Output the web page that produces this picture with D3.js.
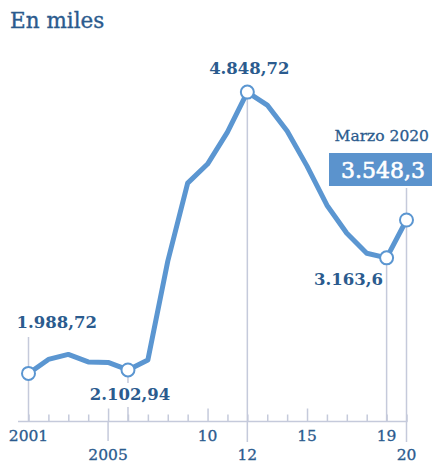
<!DOCTYPE html>
<html><head><meta charset="utf-8">
<script src="https://cdn.jsdelivr.net/npm/d3@7"></script>
<style>
html,body{margin:0;padding:0;background:#fff;}
svg{display:block;}
</style></head>
<body>
<svg id="chart" width="432" height="464"></svg>
<script>
// ---- data ----
const years = [2001,2002,2003,2004,2005,2006,2007,2008,2009,2010,2011,2012,2013,2014,2015,2016,2017,2018,2019,2020];
const values = [1988.72,2131,2182,2106,2101,2024,2126,3129,3923,4117,4442,4848.72,4717,4452,4096,3699,3414,3210,3163.6,3548.3];
const markedYears = [2001,2006,2012,2019,2020];
const markLabels = ["1.988,72","2.102,94","4.848,72","3.163,6","3.548,3"];
const tickYears = d3.range(2001,2021);
const longTicks = [2005,2010,2015];
const tickLabelsTop = [[2001,"2001"],[2010,"10"],[2015,"15"],[2019,"19"]];
const tickLabelsBottom = [[2005,"2005"],[2012,"12"],[2020,"20"]];
const title = "En miles";
const boxCaption = "Marzo 2020";

// ---- styles ----
const textColor = "#2b5b8e", lineColor = "#5b96d1", gridColor = "#c5cadb";
const serif = "'DejaVu Serif', serif";

const svg = d3.select("#chart");
const x = d3.scaleLinear().domain([2001,2020]).range([28.5,406.5]);
const y = d3.scaleLinear().domain([1500,5000]).range([421.5,77.2]);
const axisY = 421.5;
const data = years.map((yr,i)=>({yr, v: values[i]}));
const valOf = yr => values[years.indexOf(yr)];

// title
svg.append("text").attr("x",10).attr("y",28).attr("fill",textColor)
  .attr("stroke",textColor).attr("stroke-width",0.35)
  .style("font-family",serif).style("font-size","21.5px").text(title);

// guide lines
const g = svg.append("g").attr("stroke",gridColor).attr("stroke-width",1.5);
g.append("line").attr("x1",x(2001)).attr("x2",x(2001)).attr("y1",337).attr("y2",axisY);
g.append("line").attr("x1",x(2006)).attr("x2",x(2006)).attr("y1",y(valOf(2006))).attr("y2",383);
g.append("line").attr("x1",x(2006)).attr("x2",x(2006)).attr("y1",407).attr("y2",axisY);
g.append("line").attr("x1",x(2012)).attr("x2",x(2012)).attr("y1",y(valOf(2012))).attr("y2",442);
g.append("line").attr("x1",x(2019)).attr("x2",x(2019)).attr("y1",y(valOf(2019))).attr("y2",axisY);
g.append("line").attr("x1",x(2020)).attr("x2",x(2020)).attr("y1",188).attr("y2",442);
g.append("line").attr("x1",x(2005)).attr("x2",x(2005)).attr("y1",axisY).attr("y2",441);

// axis
const axis = d3.axisTop(x).tickValues(tickYears).tickSize(7).tickFormat("");
const ax = svg.append("g").attr("transform",`translate(0,${axisY})`).call(axis);
ax.select(".domain").remove();
ax.selectAll(".tick line").attr("stroke",gridColor).attr("stroke-width",1.5)
  .attr("y2", d => longTicks.includes(d) ? -13 : -7);
svg.append("line").attr("x1",18).attr("x2",x(2020)+1).attr("y1",axisY).attr("y2",axisY)
  .attr("stroke",gridColor).attr("stroke-width",1.5);

// tick labels
const tl = svg.append("g").attr("fill",textColor).attr("stroke",textColor).attr("stroke-width",0.3)
  .style("font-family",serif).style("font-size","15.5px").attr("text-anchor","middle");
tickLabelsTop.forEach(([yr,t])=> tl.append("text").attr("x",x(yr)).attr("y",441).text(t));
tickLabelsBottom.forEach(([yr,t])=> tl.append("text").attr("x",x(yr)).attr("y",460).text(t));

// line
svg.append("path").datum(data)
  .attr("d", d3.line().x(d=>x(d.yr)).y(d=>y(d.v)))
  .attr("fill","none").attr("stroke",lineColor).attr("stroke-width",5)
  .attr("stroke-linejoin","round").attr("stroke-linecap","round");

// markers
svg.append("g").selectAll("circle").data(markedYears).join("circle")
  .attr("cx",d=>x(d)).attr("cy",d=>y(valOf(d))).attr("r",6.5)
  .attr("fill","#fff").attr("stroke",lineColor).attr("stroke-width",2);

// value labels
const lbl = svg.append("g").attr("fill",textColor).style("font-family",serif)
  .style("font-size","16.5px").style("font-weight","bold");
lbl.append("text").attr("x",x(2001)-12).attr("y",328).text(markLabels[0]);
lbl.append("text").attr("x",x(2006)+2).attr("y",400).attr("text-anchor","middle").text(markLabels[1]);
lbl.append("text").attr("x",x(2012)+2).attr("y",74).attr("text-anchor","middle").text(markLabels[2]);
lbl.append("text").attr("x",383).attr("y",285).attr("text-anchor","end").text(markLabels[3]);

// box
svg.append("text").attr("x",429).attr("y",141).attr("text-anchor","end").attr("fill",textColor)
  .attr("stroke",textColor).attr("stroke-width",0.3)
  .style("font-family",serif).style("font-size","15.5px").text(boxCaption);
svg.append("rect").attr("x",329).attr("y",153).attr("width",104).attr("height",33).attr("fill","#5b93cd");
svg.append("text").attr("x",383).attr("y",178).attr("text-anchor","middle").attr("fill","#fff")
  .attr("stroke","#fff").attr("stroke-width",0.6)
  .style("font-family",serif).style("font-size","22px").text(markLabels[4]);
</script>
</body></html>
